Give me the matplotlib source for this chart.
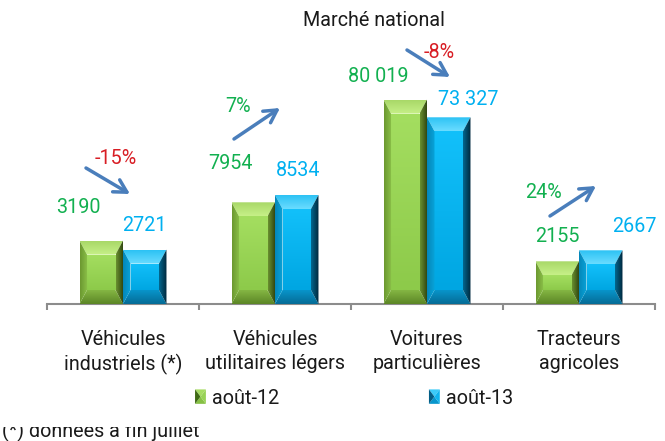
import matplotlib
matplotlib.use("Agg")
import numpy as np
import matplotlib.pyplot as plt
from matplotlib import transforms
from matplotlib.colors import LinearSegmentedColormap
from matplotlib.patches import Polygon, Rectangle
from matplotlib.legend_handler import HandlerBase
from matplotlib.transforms import Bbox

categories = ["Véhicules\nindustriels (*)", "Véhicules\nutilitaires légers",
              "Voitures\nparticulières", "Tracteurs\nagricoles"]
series = ["août-12", "août-13"]
labels_12 = ["3190", "7954", "80 019", "2155"]
labels_13 = ["2721", "8534", "73 327", "2667"]
# bar heights as drawn (the source chart squeezes the big groups)
heights_12 = [3170, 5085, 10220, 2135]
heights_13 = [2720, 5450, 9335, 2685]
changes = ["-15%", "7%", "-8%", "24%"]

W, H = 665, 441
plt.rcParams["font.family"] = ["Roboto", "DejaVu Sans"]
FS = 14.2

GREEN_TXT, BLUE_TXT, RED_TXT = "#12b050", "#00b0f0", "#d81e25"
INK = "#1a1a1a"
ARROW = "#4a7ebb"
# (start, end) colours: left->right for side bevels, bottom->top for the rest
GREEN = dict(face=("#8dca4a", "#a4de60"), top=("#c6f088", "#a9d868"),
             left=("#6c9830", "#8cc24a"), right=("#6a9130", "#2a3d0c"),
             bottom=("#5c8626", "#84b643"))
BLUE = dict(face=("#00a6e2", "#12c0fa"), top=("#6adcff", "#2cc2f4"),
            left=("#0586b8", "#08a4da"), right=("#03678f", "#00263a"),
            bottom=("#056c96", "#0894ca"))
LEG_GREEN = dict(top="#a6dc62", bottom="#86c044", left="#3f6a14", right="#98d256")
LEG_BLUE = dict(top="#3ccaf8", bottom="#0896cc", left="#035e86", right="#10b4ee")

fig = plt.figure(figsize=(W / 100, H / 100), dpi=100)
ax_top = 20
ax_base = 304
ax = fig.add_axes([47 / W, (H - ax_base) / H, 608 / W, (ax_base - ax_top) / H])
XLIM, YLIM = (-0.5, 3.5), (0, (ax_base - ax_top) * 50)
ax.set_xlim(*XLIM)
ax.set_ylim(*YLIM)

x = list(range(len(categories)))
bw = 0.286
bars12 = ax.bar([i - bw / 2 for i in x], heights_12, bw, color="none", linewidth=0, zorder=2)
bars13 = ax.bar([i + bw / 2 for i in x], heights_13, bw, color="none", linewidth=0, zorder=2)

px_x = ax.bbox.width / (XLIM[1] - XLIM[0])
px_y = ax.bbox.height / (YLIM[1] - YLIM[0])


def grad_poly(pts, colors, horizontal):
    poly = Polygon(pts, closed=True, facecolor="none", edgecolor="none")
    ax.add_patch(poly)
    xs = [p[0] for p in pts]
    ys = [p[1] for p in pts]
    cmap = LinearSegmentedColormap.from_list("g", list(colors))
    ramp = np.linspace(0, 1, 64)
    arr = ramp.reshape(1, -1) if horizontal else ramp.reshape(-1, 1)
    im = ax.imshow(arr, cmap=cmap, extent=(min(xs), max(xs), min(ys), max(ys)), origin="lower",
                   aspect="auto", interpolation="bilinear", zorder=3)
    im.set_clip_path(poly)


def bevel(patch, shade, bx=7.5, by=14):
    x0, y0 = patch.get_x(), patch.get_y()
    x1, y1 = x0 + patch.get_width(), y0 + patch.get_height()
    dx, dy = bx / px_x, by / px_y
    A, B, C, D = (x0, y0), (x1, y0), (x1, y1), (x0, y1)
    a, b, c, d = (x0 + dx, y0 + dy), (x1 - dx, y0 + dy), (x1 - dx, y1 - dy), (x0 + dx, y1 - dy)
    grad_poly([a, b, c, d], shade["face"], False)
    grad_poly([d, c, C, D], shade["top"], False)
    grad_poly([A, B, b, a], shade["bottom"], False)
    grad_poly([A, a, d, D], shade["left"], True)
    grad_poly([b, B, C, c], shade["right"], True)


for p in bars12:
    bevel(p, GREEN)
for p in bars13:
    bevel(p, BLUE)
ax.set_xlim(*XLIM)
ax.set_ylim(*YLIM)

# value labels (manually placed in the source)
off12 = [(-23, 33), (-23, 39), (-27, 23), (0, 25)]
off13 = [(0, 24), (1, 24), (20, 18), (34, 24)]
for p, lab, off in zip(bars12, labels_12, off12):
    ax.annotate(lab, (p.get_x() + p.get_width() / 2, p.get_height()), xytext=off,
                textcoords="offset pixels", ha="center", va="center", fontsize=FS, color=GREEN_TXT)
for p, lab, off in zip(bars13, labels_13, off13):
    ax.annotate(lab, (p.get_x() + p.get_width() / 2, p.get_height()), xytext=off,
                textcoords="offset pixels", ha="center", va="center", fontsize=FS, color=BLUE_TXT)

# change labels and arrows, offsets in pixels from the group centre on the baseline
pct_off = [(-7, 146), (-37, 198), (12, 252), (-35, 111)]
arrows = [((-37, 136), (7, 110)), ((-41, 165), (5, 196)),
          ((-20, 254), (23, 227)), ((-29, 88), (17, 118))]
for i, (txt, off, (s, e)) in enumerate(zip(changes, pct_off, arrows)):
    col = RED_TXT if txt.startswith("-") else GREEN_TXT
    ax.annotate(txt, (i, 0), xytext=off, textcoords="offset pixels",
                ha="center", va="center", fontsize=FS, color=col)
    tip = transforms.offset_copy(ax.transData, fig=fig, x=e[0], y=e[1], units="dots")
    ax.annotate("", xy=(i, 0), xycoords=tip, xytext=(s[0] - e[0], s[1] - e[1]),
                textcoords="offset pixels",
                arrowprops=dict(arrowstyle="->,head_length=0.9,head_width=0.5",
                                color=ARROW, lw=2.5, shrinkA=0, shrinkB=0))

# axes styling
for side in ["left", "right", "top"]:
    ax.spines[side].set_visible(False)
ax.spines["bottom"].set_color("#8c8c8c")
ax.spines["bottom"].set_linewidth(1.5)
ax.set_yticks([])
ax.set_xticks([-0.5, 0.5, 1.5, 2.5, 3.5])
ax.set_xticklabels([])
ax.tick_params(axis="x", which="major", direction="out", length=4, width=1.5, color="#8c8c8c")
ax.set_xticks(x, categories, minor=True)
ax.tick_params(axis="x", which="minor", length=0, pad=19, labelsize=FS, labelcolor=INK)
for t in ax.get_xticklabels(minor=True):
    t.set_linespacing(1.3)

fig.text(374 / W, 1 - 20 / H, "Marché national", ha="center", va="center",
         fontsize=FS, color=INK)


class BevelHandler(HandlerBase):
    def __init__(self, shade):
        super().__init__()
        self.shade = shade

    def create_artists(self, legend, orig_handle, xdescent, ydescent, width, height, fontsize, trans):
        x0, y0 = -xdescent, -ydescent
        x1, y1 = x0 + width, y0 + height
        cx, cy = (x0 + x1) / 2, (y0 + y1) / 2
        out = []
        for pts, key in [([(x0, y1), (x1, y1), (cx, cy)], "top"),
                         ([(x0, y0), (x1, y0), (cx, cy)], "bottom"),
                         ([(x0, y0), (x0, y1), (cx, cy)], "left"),
                         ([(x1, y0), (x1, y1), (cx, cy)], "right")]:
            out.append(Polygon(pts, closed=True, facecolor=self.shade[key],
                               edgecolor="none", transform=trans))
        return out


h12 = Rectangle((0, 0), 1, 1)
h13 = Rectangle((0, 0), 1, 1)
fig.legend([h12, h13], series, loc="center", bbox_to_anchor=(354 / W, 1 - 398 / H),
           ncol=2, frameon=False, fontsize=FS, handlelength=0.55, handleheight=0.75,
           handletextpad=0.3, columnspacing=7.6, borderpad=0, borderaxespad=0,
           handler_map={h12: BevelHandler(LEG_GREEN), h13: BevelHandler(LEG_BLUE)},
           labelcolor=INK)

note = fig.text(2 / W, 1 - 437 / H, "(*) données à fin juillet", ha="left", va="baseline",
                fontsize=FS, color=INK)
note.set_clip_box(Bbox.from_extents(0, 0, W, H - 427))
note.set_clip_on(True)

fig.savefig("out.png", dpi=100)
